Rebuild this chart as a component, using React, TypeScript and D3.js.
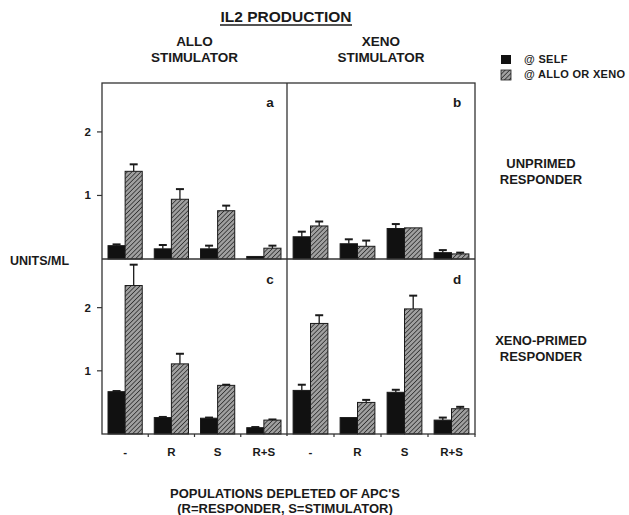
import React from "react";
import * as d3 from "d3";

const groups = ["-", "R", "S", "R+S"];
const panelLetters = ["a", "b", "c", "d"];
const columnTitles = [["ALLO", "STIMULATOR"], ["XENO", "STIMULATOR"]];
const rowTitles = [["UNPRIMED", "RESPONDER"], ["XENO-PRIMED", "RESPONDER"]];
const seriesNames = ["@ SELF", "@ ALLO OR XENO"];
const yTicks = [1, 2];

// panels a, b, c, d
const selfValues = [
  [0.21, 0.16, 0.16, 0.04],
  [0.35, 0.24, 0.48, 0.1],
  [0.67, 0.26, 0.25, 0.1],
  [0.69, 0.26, 0.66, 0.22],
];
const selfErrors = [
  [0.02, 0.06, 0.05, 0],
  [0.08, 0.07, 0.07, 0.04],
  [0.01, 0.01, 0.01, 0.01],
  [0.09, 0, 0.04, 0.04],
];
const alloValues = [
  [1.38, 0.94, 0.76, 0.17],
  [0.52, 0.2, 0.49, 0.08],
  [2.35, 1.11, 0.77, 0.22],
  [1.75, 0.5, 1.98, 0.4],
];
const alloErrors = [
  [0.11, 0.16, 0.08, 0.04],
  [0.07, 0.09, 0, 0.02],
  [0.33, 0.16, 0.01, 0.01],
  [0.13, 0.04, 0.21, 0.03],
];

const FONT = "'Liberation Sans', Arial, Helvetica, sans-serif";
const INK = "#1a1a1a";

export default function App() {
  const W = 629,
    H = 515;
  const colX: [number, number][] = [
    [102, 287],
    [287, 475],
  ];
  const rowY: [number, number][] = [
    [259, 83],
    [434, 259],
  ];
  const yMax = 2.77;

  const panels = panelLetters.map((letter, i) => {
    const col = i % 2;
    const row = Math.floor(i / 2);
    const x = d3
      .scaleBand<string>()
      .domain(groups)
      .range(colX[col])
      .paddingInner(0.26)
      .paddingOuter(0.13);
    const xs = d3
      .scaleBand<string>()
      .domain(["self", "allo"])
      .range([0, x.bandwidth()]);
    const y = d3.scaleLinear().domain([0, yMax]).range(rowY[row]);
    return { letter, col, row, x, xs, y, i };
  });

  const bar = (
    key: string,
    x0: number,
    w: number,
    v: number,
    e: number,
    y: d3.ScaleLinear<number, number>,
    hatched: boolean
  ) => {
    const cx = x0 + w / 2;
    return (
      <g key={key}>
        {e > 0 && (
          <g stroke={INK} strokeWidth={1.3}>
            <line x1={cx} x2={cx} y1={y(v)} y2={y(v + e)} />
            <line x1={cx - 4} x2={cx + 4} y1={y(v + e)} y2={y(v + e)} strokeWidth={2} />
          </g>
        )}
        <rect
          x={x0}
          y={y(v)}
          width={w}
          height={y(0) - y(v)}
          fill={hatched ? "url(#hatch)" : "#111"}
          stroke={INK}
          strokeWidth={1}
        />
      </g>
    );
  };

  return (
    <svg width={W} height={H} style={{ position: "absolute", left: 0, top: 0 }} fontFamily={FONT}>
      <defs>
        <pattern id="hatch" patternUnits="userSpaceOnUse" width={3.2} height={3.2} patternTransform="rotate(45)">
          <rect width={3.2} height={3.2} fill="#a0a0a0" />
          <line x1={0} y1={0} x2={0} y2={3.2} stroke="#2a2a2a" strokeWidth={1.5} />
        </pattern>
      </defs>
      <rect width={W} height={H} fill="#fff" />

      {/* title */}
      <text x={286} y={22} textAnchor="middle" fontSize={15.5} fontWeight="bold" fill={INK}>
        IL2 PRODUCTION
      </text>
      <line x1={220} x2={352} y1={25} y2={25} stroke={INK} strokeWidth={1.3} />

      {/* column titles */}
      {columnTitles.map((t, c) => {
        const cx = (colX[c][0] + colX[c][1]) / 2;
        return (
          <text key={c} textAnchor="middle" fontSize={13.5} fontWeight="bold" fill={INK}>
            <tspan x={cx} y={46}>{t[0]}</tspan>
            <tspan x={cx} y={62}>{t[1]}</tspan>
          </text>
        );
      })}

      {/* legend */}
      <rect x={501} y={55} width={10} height={9} fill="#111" />
      <rect x={501} y={70} width={10} height={10} fill="url(#hatch)" stroke={INK} strokeWidth={0.8} />
      <text x={524} y={63} fontSize={11} fontWeight="bold" fill={INK} letterSpacing={0.3}>{seriesNames[0]}</text>
      <text x={524} y={78} fontSize={11} fontWeight="bold" fill={INK} letterSpacing={0.3}>{seriesNames[1]}</text>

      {/* row titles */}
      {rowTitles.map((t, r) => {
        const by = r === 0 ? 168 : 345;
        return (
          <text key={r} textAnchor="middle" fontSize={13} fontWeight="bold" fill={INK}>
            <tspan x={541} y={by}>{t[0]}</tspan>
            <tspan x={541} y={by + 16}>{t[1]}</tspan>
          </text>
        );
      })}

      <text x={10} y={265} fontSize={12.5} fontWeight="bold" fill={INK}>UNITS/ML</text>

      {/* bars */}
      {panels.map((p) => (
        <g key={p.letter}>
          {groups.map((g, gi) => {
            const gx = p.x(g)!;
            return (
              <g key={g}>
                {bar("s", gx + p.xs("self")!, p.xs.bandwidth(), selfValues[p.i][gi], selfErrors[p.i][gi], p.y, false)}
                {bar("a", gx + p.xs("allo")!, p.xs.bandwidth(), alloValues[p.i][gi], alloErrors[p.i][gi], p.y, true)}
              </g>
            );
          })}
          <text
            x={p.col === 0 ? 270 : 457}
            y={p.row === 0 ? 107 : 284}
            textAnchor="middle"
            fontSize={13.5}
            fontWeight="bold"
            fill={INK}
          >
            {p.letter}
          </text>
        </g>
      ))}

      {/* frames */}
      <g stroke="#333" strokeWidth={1.3} fill="none">
        <rect x={102} y={83} width={373} height={351} />
        <line x1={102} x2={475} y1={259} y2={259} />
        <line x1={287} x2={287} y1={83} y2={436} />
      </g>

      {/* y ticks */}
      {[0, 1].map((r) => {
        const y = d3.scaleLinear().domain([0, yMax]).range(rowY[r]);
        return (
          <g key={r}>
            {yTicks.map((t) => (
              <g key={t}>
                <line x1={97} x2={102} y1={y(t)} y2={y(t)} stroke="#333" strokeWidth={1.2} />
                <text x={91} y={y(t) + 4} textAnchor="end" fontSize={11.5} fontWeight="bold" fill={INK}>
                  {t}
                </text>
              </g>
            ))}
          </g>
        );
      })}

      {/* x ticks and labels */}
      {[0, 1].map((c) => {
        const p = panels[2 + c];
        const step = (colX[c][1] - colX[c][0]) / groups.length;
        return (
          <g key={c}>
            {groups.map((g, gi) => (
              <g key={g}>
                {gi > 0 && (
                  <line
                    x1={colX[c][0] + step * gi}
                    x2={colX[c][0] + step * gi}
                    y1={434}
                    y2={437}
                    stroke="#333"
                    strokeWidth={1.2}
                  />
                )}
                <text
                  x={p.x(g)! + p.x.bandwidth() / 2}
                  y={456}
                  textAnchor="middle"
                  fontSize={11.5}
                  fontWeight="bold"
                  fill={INK}
                >
                  {g}
                </text>
              </g>
            ))}
          </g>
        );
      })}
      <line x1={475} x2={475} y1={434} y2={437} stroke="#333" strokeWidth={1.2} />

      {/* bottom caption */}
      <text textAnchor="middle" fontSize={13} fontWeight="bold" fill={INK}>
        <tspan x={285} y={498}>POPULATIONS DEPLETED OF APC'S</tspan>
        <tspan x={285} y={513}>(R=RESPONDER, S=STIMULATOR)</tspan>
      </text>
    </svg>
  );
}
